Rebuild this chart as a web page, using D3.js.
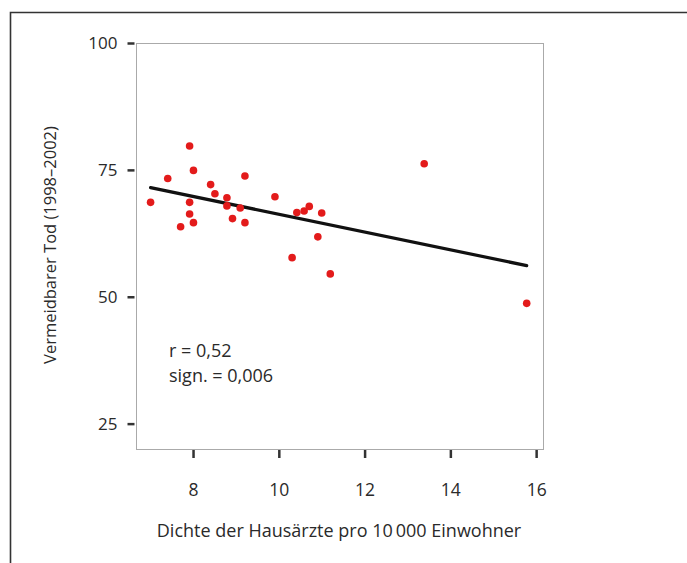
<!DOCTYPE html>
<html>
<head>
<meta charset="utf-8">
<script src="https://cdn.jsdelivr.net/npm/d3@7"></script>
<style>
  html, body { margin: 0; padding: 0; background: #fff; }
  svg { display: block; }
  text { font-family: "Open Sans", Lato, sans-serif; fill: #2a2a2a; }
</style>
</head>
<body>
<svg id="chart" width="687" height="563"></svg>
<script>
// Hausarztdichte (x) vs. vermeidbarer Tod (y)
const density = [7.01, 7.41, 7.92, 8.01, 7.92, 7.92, 8.01, 7.71, 8.41, 8.51, 8.79, 8.79, 8.92,
                 9.10, 9.21, 9.21, 9.91, 10.31, 10.42, 10.59, 10.71, 11.0, 10.91, 11.2, 13.39, 15.78];
const avoidable = [68.6, 73.3, 79.7, 74.9, 68.6, 66.3, 64.6, 63.8, 72.1, 70.3, 69.5, 67.9, 65.4,
                   67.5, 73.8, 64.6, 69.7, 57.7, 66.6, 66.9, 67.8, 66.5, 61.8, 54.5, 76.2, 48.7];
// Regressionsgerade
const fitIntercept = 83.78;
const fitSlope = -1.752;
const xTicks = [8, 10, 12, 14, 16];
const yTicks = [25, 50, 75, 100];
const statLines = ['r = 0,52', 'sign. = 0,006'];

const svg = d3.select('#chart');

// outer frame (only left and top edges visible)
svg.append('path')
    .attr('d', 'M10.5,563 V12.5 H687')
    .attr('fill', 'none')
    .attr('stroke', '#333')
    .attr('stroke-width', 1.6);

const box = { left: 136, right: 543, top: 43, bottom: 449 };

const x = d3.scaleLinear().domain([6.67, 16.16]).range([box.left, box.right]);
const y = d3.scaleLinear().domain([20, 100]).range([box.bottom, box.top]);

// plot box
svg.append('rect')
    .attr('x', box.left + 0.5)
    .attr('y', box.top + 0.5)
    .attr('width', box.right - box.left)
    .attr('height', box.bottom - box.top)
    .attr('fill', 'none')
    .attr('stroke', '#aaa')
    .attr('stroke-width', 1);

// y axis
const yAxis = d3.axisLeft(y).tickValues(yTicks).tickSize(7).tickPadding(10).tickFormat(d3.format('d'));
const gy = svg.append('g').attr('transform', `translate(${box.left - 1.5},0)`).call(yAxis);
gy.select('.domain').remove();
gy.selectAll('.tick line').attr('stroke', '#333').attr('stroke-width', 2.5);
gy.selectAll('.tick text').style('font-size', '17px').attr('fill', '#2a2a2a');

// x axis
const xAxis = d3.axisBottom(x).tickValues(xTicks).tickSize(8).tickPadding(26).tickFormat(d3.format('d'));
const gx = svg.append('g').attr('transform', `translate(0,${box.bottom + 1})`).call(xAxis);
gx.select('.domain').remove();
gx.selectAll('.tick line').attr('stroke', '#333').attr('stroke-width', 2.5);
gx.selectAll('.tick text').style('font-size', '17.5px').attr('fill', '#2a2a2a');

// axis titles
svg.append('text')
    .attr('x', 339)
    .attr('y', 537)
    .attr('text-anchor', 'middle')
    .style('font-size', '18px')
    .text('Dichte der Hausärzte pro 10\u2009000 Einwohner');

svg.append('text')
    .attr('transform', 'translate(56,245) rotate(-90)')
    .attr('text-anchor', 'middle')
    .style('font-size', '16.5px')
    .text('Vermeidbarer Tod (1998–2002)');

// regression line
const xExtent = d3.extent(density);
const fit = xExtent.map(v => [v, fitIntercept + fitSlope * v]);
svg.append('path')
    .datum(fit)
    .attr('d', d3.line().x(d => x(d[0])).y(d => y(d[1])))
    .attr('fill', 'none')
    .attr('stroke', '#111')
    .attr('stroke-width', 3.2)
    .attr('stroke-linecap', 'round');

// points
svg.append('g')
    .selectAll('circle')
    .data(density.map((d, i) => [d, avoidable[i]]))
    .join('circle')
    .attr('cx', d => x(d[0]))
    .attr('cy', d => y(d[1]))
    .attr('r', 3.8)
    .attr('fill', '#e31b1b');

// statistics
svg.append('g')
    .selectAll('text')
    .data(statLines)
    .join('text')
    .attr('x', 169)
    .attr('y', (d, i) => 357 + i * 25)
    .style('font-size', '18px')
    .text(d => d);
</script>
</body>
</html>
